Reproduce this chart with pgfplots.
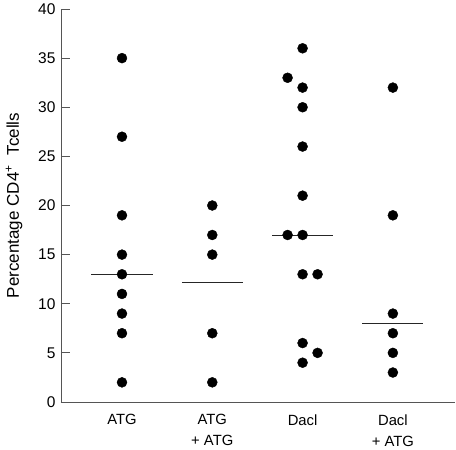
\documentclass[border=0pt]{standalone}
\usepackage{pgfplots}
\pgfplotsset{compat=1.18}
\usepackage{fontspec}
\setmainfont{Liberation Sans}
\definecolor{spine}{HTML}{555555}
\begin{document}
\begin{tikzpicture}
\useasboundingbox (-61bp,-48bp) rectangle (395bp,402bp);
\begin{axis}[
  at={(0,0)}, anchor=south west,
  scale only axis,
  width=394bp, height=393bp,
  xmin=0.3245, xmax=4.688,
  ymin=0, ymax=40,
  axis lines*=left,
  axis line style={spine, line width=0.9pt},
  every outer x axis line/.append style={-}, every outer y axis line/.append style={-},
  ytick={0,5,...,40},
  tick align=inside,
  major tick length=9bp,
  ytick style={spine, line width=0.9pt},
  xtick={1,2,3,4},
  xtick style={draw=none},
  xticklabels={ATG, ATG\\+ ATG, Dacl, Dacl\\+ ATG},
  xticklabel style={align=center, font=\fontsize{14.8bp}{21bp}\selectfont, yshift=-9bp},
  yticklabel style={font=\fontsize{15.5bp}{18bp}\selectfont, xshift=-2bp},
  /pgf/number format/assume math mode=true,
  ylabel={Percentage CD4\textsuperscript{+}\ \ Tcells},
  ylabel style={font=\fontsize{17bp}{20bp}\selectfont, at={(axis description cs:-0.1193,0.5)}, anchor=center},
  clip=false,
]
% dots
\addplot[only marks, mark=*, mark size=5bp, black] coordinates {
 (1,35) (1,27) (1,19) (1,15) (1,13) (1,11) (1,9) (1,7) (1,2)
};
\addplot[only marks, mark=*, mark size=5bp, black] coordinates {
 (2,20) (2,17) (2,15) (2,7) (2,2)
};
\addplot[only marks, mark=*, mark size=5bp, black] coordinates {
 (3,36) (2.834,33) (3,32) (3,30) (3,26) (3,21) (2.834,17) (3,17)
 (3,13) (3.166,13) (3,6) (3.166,5) (3,4)
};
\addplot[only marks, mark=*, mark size=5bp, black] coordinates {
 (4,32) (4,19) (4,9) (4,7) (4,5) (4,3)
};
% medians
\addplot[black!85, line width=0.9pt] coordinates {(0.662,13) (1.338,13)};
\addplot[black!85, line width=0.9pt] coordinates {(1.662,12.15) (2.338,12.15)};
\addplot[black!85, line width=0.9pt] coordinates {(2.662,17) (3.338,17)};
\addplot[black!85, line width=0.9pt] coordinates {(3.662,8) (4.338,8)};
\end{axis}
\end{tikzpicture}
\end{document}
